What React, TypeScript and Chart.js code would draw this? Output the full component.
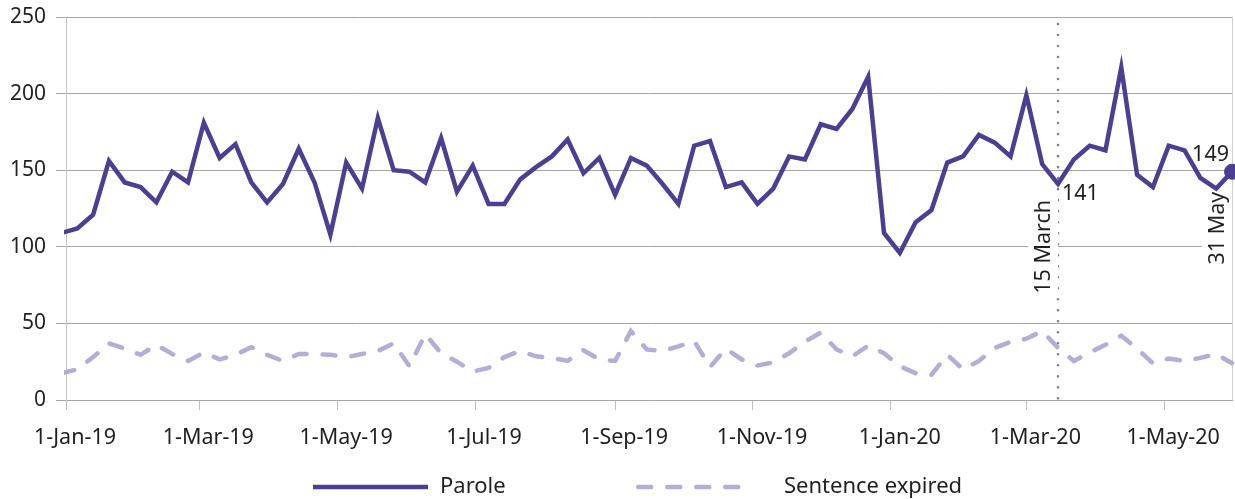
import React, { useEffect, useRef } from "react";
import { Chart, registerables } from "chart.js";

Chart.register(...registerables);

// ---------- data ----------
const FIRST_WEEK = "2018-12-30"; // weekly series, week ending Sunday
const AXIS_START = "2019-01-01";
const AXIS_END = "2020-05-31";

const seriesLabels = ["Parole", "Sentence expired"];

const parole = [
  109, 112, 121, 156, 142, 139, 129, 149, 142, 181,
  158, 167, 142, 129, 141, 164, 142, 108, 155, 138,
  184, 150, 149, 142, 171, 136, 153, 128, 128, 144,
  152, 159, 170, 148, 158, 134, 158, 153, 141, 128,
  166, 169, 139, 142, 128, 138, 159, 157, 180, 177,
  190, 211, 109, 96, 116, 124, 155, 159, 173, 168,
  159, 199, 154, 141, 157, 166, 163, 217, 147, 139,
  166, 163, 145, 138, 149,
];

const sentenceExpired = [
  17.5, 20, 28, 37, 33.5, 29.5, 36, 30, 25.5, 31,
  26.5, 29.5, 34.5, 29.5, 25.5, 30, 30, 29.5, 28, 30,
  32, 37, 22, 43, 30.5, 25, 18.5, 21, 28, 32,
  28.5, 27.5, 25.5, 32.5, 26.5, 25.5, 45, 33, 32, 35,
  38.5, 21.5, 33.5, 26.5, 22.5, 24.5, 30.5, 38, 44, 33,
  28.5, 35.5, 30.5, 22, 17.5, 16.5, 29.5, 20, 25.5, 34,
  38, 40, 45, 34, 25.5, 31, 36, 42, 33.5, 24,
  27, 25.5, 27.5, 30, 24,
];

const tickDates = [
  "2019-01-01", "2019-03-01", "2019-05-01", "2019-07-01", "2019-09-01",
  "2019-11-01", "2020-01-01", "2020-03-01", "2020-05-01",
];
const tickLabels = [
  "1-Jan-19", "1-Mar-19", "1-May-19", "1-Jul-19", "1-Sep-19",
  "1-Nov-19", "1-Jan-20", "1-Mar-20", "1-May-20",
];

const markerDates = ["2020-03-15", "2020-05-31"];
const markerTexts = ["15 March", "31 May"];

const Y_MIN = 0;
const Y_MAX = 250;
const Y_STEP = 50;

// ---------- helpers ----------
const DAY_MS = 86400000;
const dayOf = (iso: string) => (Date.parse(iso) - Date.parse(AXIS_START)) / DAY_MS;
const weekDays = parole.map((_, i) => dayOf(FIRST_WEEK) + 7 * i);

const FONT = "'Noto Sans', 'Open Sans', sans-serif";
const TEXT = "#1f1f1f";
const PAROLE_COLOR = "#4c3f91";
const EXPIRED_COLOR = "#b6add6";

const annotationPlugin = {
  id: "annotations",
  beforeDatasetsDraw(chart: any) {
    const { ctx, chartArea, scales } = chart;
    const x = scales.x;
    const y = scales.y;
    ctx.save();
    // right border of plot area
    ctx.strokeStyle = "#d0d0d0";
    ctx.lineWidth = 1;
    ctx.beginPath();
    ctx.moveTo(chartArea.right + 0.5, chartArea.top);
    ctx.lineTo(chartArea.right + 0.5, chartArea.bottom);
    ctx.stroke();

    ctx.font = `21.5px ${FONT}`;
    markerDates.forEach((d, k) => {
      const idx = weekDays.indexOf(dayOf(d));
      const px = x.getPixelForValue(dayOf(d));
      const py = y.getPixelForValue(parole[idx]);
      // dotted vertical line for the first marker
      if (k === 0) {
        ctx.save();
        ctx.strokeStyle = "#808080";
        ctx.lineWidth = 2.6;
        ctx.lineCap = "round";
        ctx.setLineDash([0.01, 11]);
        ctx.beginPath();
        ctx.moveTo(px, chartArea.top + 7);
        ctx.lineTo(px, chartArea.bottom);
        ctx.stroke();
        ctx.restore();
      }
      // rotated date text with white background
      const text = markerTexts[k];
      const w = ctx.measureText(text).width;
      const cx = px - 15;
      const topY = py + (k === 0 ? 16 : 20);
      ctx.fillStyle = "#ffffff";
      ctx.fillRect(cx - 15, topY - 2, 30, w + 4);
      ctx.save();
      ctx.translate(cx, topY);
      ctx.rotate(-Math.PI / 2);
      ctx.fillStyle = TEXT;
      ctx.textAlign = "right";
      ctx.textBaseline = "middle";
      ctx.fillText(text, 0, 1);
      ctx.restore();
    });
    ctx.restore();
  },
  afterDatasetsDraw(chart: any) {
    const { ctx, scales } = chart;
    const x = scales.x;
    const y = scales.y;
    ctx.save();
    ctx.font = `21.5px ${FONT}`;
    ctx.fillStyle = TEXT;
    ctx.textBaseline = "middle";
    markerDates.forEach((d, k) => {
      const idx = weekDays.indexOf(dayOf(d));
      const val = parole[idx];
      const px = x.getPixelForValue(dayOf(d));
      const py = y.getPixelForValue(val);
      if (k === 0) {
        ctx.textAlign = "left";
        ctx.fillText(String(val), px + 4, py + 10);
      } else {
        ctx.textAlign = "right";
        ctx.fillText(String(val), px - 3, py - 17);
      }
    });
    ctx.restore();
  },
  afterDraw(chart: any) {
    // legend
    const { ctx } = chart;
    const items = [
      { x0: 313, x1: 428, tx: 440 },
      { x0: 636, x1: 752, tx: 784 },
    ];
    const ly = 487;
    ctx.save();
    chart.data.datasets.forEach((ds: any, i: number) => {
      const it = items[i];
      ctx.strokeStyle = ds.borderColor;
      ctx.lineWidth = ds.borderWidth;
      ctx.lineCap = ds.borderCapStyle || "butt";
      ctx.setLineDash(ds.borderDash || []);
      ctx.beginPath();
      const pad = ds.borderCapStyle === "round" ? ds.borderWidth / 2 : 0;
      ctx.moveTo(it.x0 + pad, ly);
      ctx.lineTo(it.x1, ly);
      ctx.stroke();
      ctx.setLineDash([]);
      ctx.fillStyle = TEXT;
      ctx.font = `22px ${FONT}`;
      ctx.textAlign = "left";
      ctx.textBaseline = "middle";
      ctx.fillText(ds.label, it.tx, ly);
    });
    ctx.restore();
  },
};

export default function App() {
  const ref = useRef<HTMLCanvasElement | null>(null);

  useEffect(() => {
    if (!ref.current) return;
    Chart.defaults.font.family = FONT;
    const lastIdx = parole.length - 1;
    const chart = new Chart(ref.current, {
      type: "line",
      data: {
        datasets: [
          {
            label: seriesLabels[0],
            data: parole.map((v, i) => ({ x: weekDays[i], y: v })),
            borderColor: PAROLE_COLOR,
            backgroundColor: PAROLE_COLOR,
            borderWidth: 4.5,
            borderJoinStyle: "miter",
            tension: 0,
            pointRadius: (c: any) => (c.dataIndex === lastIdx ? 7.5 : 0),
            pointBackgroundColor: PAROLE_COLOR,
            pointBorderColor: PAROLE_COLOR,
            pointBorderWidth: 1,
            pointHoverRadius: 0,
            clip: { left: 2, right: 12, top: 12, bottom: 12 },
          } as any,
          {
            label: seriesLabels[1],
            data: sentenceExpired.map((v, i) => ({ x: weekDays[i], y: v })),
            borderColor: EXPIRED_COLOR,
            backgroundColor: EXPIRED_COLOR,
            borderWidth: 4.5,
            borderDash: [13, 16],
            borderCapStyle: "round",
            tension: 0,
            pointRadius: 0,
            pointHoverRadius: 0,
            clip: { left: 2, right: 12, top: 12, bottom: 12 },
          } as any,
        ],
      },
      options: {
        animation: false,
        responsive: false,
        devicePixelRatio: 1,
        layout: { autoPadding: false, padding: { left: 0, right: 3, top: 17, bottom: 0 } },
        plugins: {
          legend: { display: false },
          tooltip: { enabled: false },
        },
        scales: {
          x: {
            type: "linear",
            min: 0,
            max: dayOf(AXIS_END),
            afterBuildTicks: (scale: any) => {
              scale.ticks = tickDates.map((d) => ({ value: dayOf(d) }));
            },
            afterFit: (scale: any) => {
              scale.height = 99;
              scale.paddingLeft = 0;
              scale.paddingRight = 0;
            },
            ticks: {
              autoSkip: false,
              maxRotation: 0,
              padding: 15,
              labelOffset: 9,
              color: TEXT,
              font: { size: 21.5, family: FONT },
              callback: (_v: any, i: number) => tickLabels[i],
            },
            grid: {
              drawOnChartArea: false,
              drawTicks: true,
              tickLength: 10,
              color: "#bfbfbf",
            },
            border: { color: "#a6a6a6" },
          },
          y: {
            min: Y_MIN,
            max: Y_MAX,
            afterFit: (scale: any) => {
              scale.width = 66;
              scale.paddingTop = 0;
              scale.paddingBottom = 0;
            },
            ticks: {
              stepSize: Y_STEP,
              padding: 10,
              color: TEXT,
              font: { size: 21, family: FONT },
            },
            grid: {
              color: "#a6a6a6",
              tickLength: 10,
            },
            border: { color: "#c4c4c4" },
          },
        },
      } as any,
      plugins: [annotationPlugin],
    });
    return () => chart.destroy();
  }, []);

  return (
    <div style={{ position: "fixed", left: 0, top: 0, width: 1235, height: 499, background: "#fff" }}>
      <canvas ref={ref} width={1235} height={499} />
    </div>
  );
}
